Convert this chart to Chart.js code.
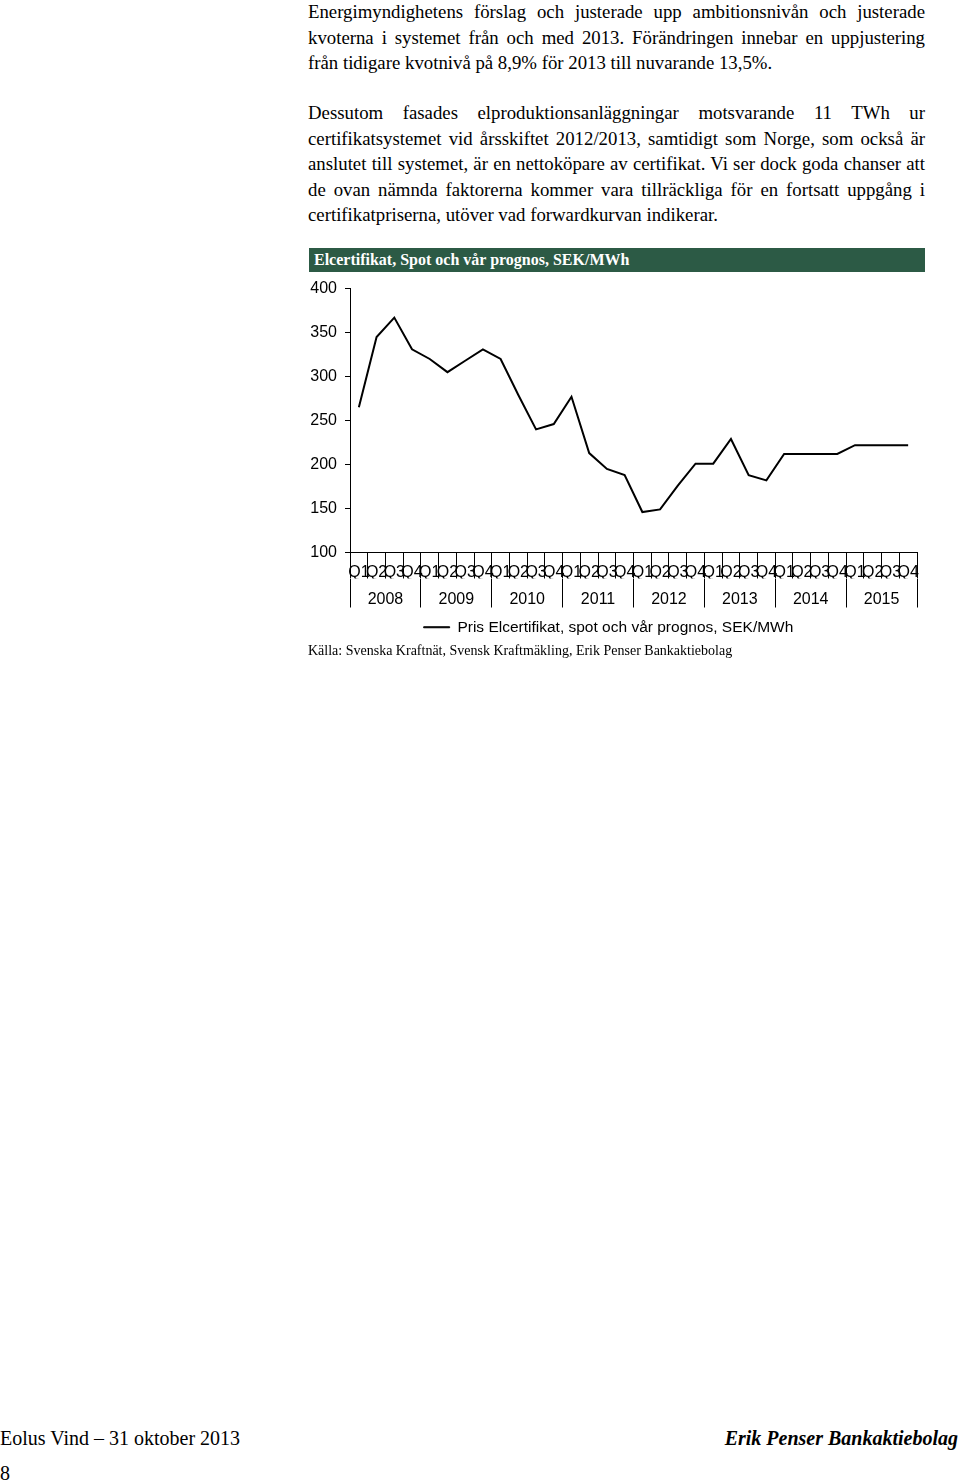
<!DOCTYPE html>
<html>
<head>
<meta charset="utf-8">
<script src="https://cdn.jsdelivr.net/npm/chart.js@4.4.0/dist/chart.umd.min.js"></script>
<style>
  html, body { margin:0; padding:0; background:#fff; }
  body { width:960px; height:1484px; position:relative; overflow:hidden; font-family:"Liberation Serif","Times New Roman",serif; color:#000; }
  .para { position:absolute; left:308px; width:617px; font-size:18.8px; line-height:25.6px; text-align:justify; }
  .titlebar { position:absolute; left:309px; top:248px; width:616px; height:24px; background:#2c5a45; color:#fff; font-weight:bold; font-size:16px; line-height:24px; padding-left:5px; box-sizing:border-box; }
  #wrap { position:absolute; left:300px; top:271px; width:630px; height:374px; }
  .src { position:absolute; left:308px; top:643px; font-size:14px; }
  .foot { position:absolute; font-size:20px; }
</style>
</head>
<body>
<div class="para" style="top:-1px;">Energimyndighetens förslag och justerade upp ambitionsnivån och justerade kvoterna i systemet från och med 2013. Förändringen innebar en uppjustering från tidigare kvotnivå på 8,9% för 2013 till nuvarande 13,5%.</div>
<div class="para" style="top:100px;">Dessutom fasades elproduktionsanläggningar motsvarande 11 TWh ur certifikatsystemet vid årsskiftet 2012/2013, samtidigt som Norge, som också är anslutet till systemet, är en nettoköpare av certifikat. Vi ser dock goda chanser att de ovan nämnda faktorerna kommer vara tillräckliga för en fortsatt uppgång i certifikatpriserna, utöver vad forwardkurvan indikerar.</div>
<div class="titlebar">Elcertifikat, Spot och vår prognos, SEK/MWh</div>
<div id="wrap"><canvas id="c"></canvas></div>
<div class="src">Källa: Svenska Kraftnät, Svensk Kraftmäkling, Erik Penser Bankaktiebolag</div>
<div class="foot" style="left:0; top:1427px;">Eolus Vind – 31 oktober 2013</div>
<div class="foot" style="right:2px; top:1427px; font-weight:bold; font-style:italic;">Erik Penser Bankaktiebolag</div>
<div class="foot" style="left:0; top:1462px;">8</div>
<script>
const quarters = ["Q1","Q2","Q3","Q4","Q1","Q2","Q3","Q4","Q1","Q2","Q3","Q4","Q1","Q2","Q3","Q4",
                  "Q1","Q2","Q3","Q4","Q1","Q2","Q3","Q4","Q1","Q2","Q3","Q4","Q1","Q2","Q3","Q4"];
const years = ["2008","2009","2010","2011","2012","2013","2014","2015"];
const seriesName = "Pris Elcertifikat, spot och vår prognos, SEK/MWh";
const prices = [265, 345, 367, 331,
                320, 305, 318, 331,
                320, 279, 240, 246,
                277, 213, 195, 188,
                146, 149, 176, 201,
                201, 229, 188, 182,
                212, 212, 212, 212,
                222, 222, 222, 222];
const yTicks = [100, 150, 200, 250, 300, 350, 400];

const axisFont = { family: "Liberation Sans, Arial, sans-serif", size: 16 };
const legendFont = { family: "Liberation Sans, Arial, sans-serif", size: 15.5 };

new Chart(document.getElementById('c'), {
  type: 'line',
  data: {
    labels: quarters,
    datasets: [{
      label: seriesName,
      data: prices,
      borderColor: '#000',
      backgroundColor: '#000',
      borderWidth: 2,
      pointRadius: 0,
      tension: 0,
      fill: false
    }]
  },
  options: {
    responsive: true,
    maintainAspectRatio: false,
    animation: false,
    layout: { padding: { top: 6, right: 13, left: 0, bottom: 0 } },
    plugins: {
      tooltip: { enabled: false },
      legend: {
        position: 'bottom',
        labels: {
          color: '#000',
          font: legendFont,
          boxWidth: 26,
          boxHeight: 1,
          padding: 12,
          generateLabels: (chart) => Chart.defaults.plugins.legend.labels.generateLabels(chart).map(i => ({...i, lineWidth: 1, strokeStyle: '#000', fillStyle: '#000'}))
        }
      }
    },
    scales: {
      x: {
        type: 'category',
        position: 'bottom',
        offset: true,
        grid: { offset: true, drawOnChartArea: false, drawTicks: true, tickLength: 26, color: '#000', lineWidth: 1 },
        border: { display: true, color: '#000', width: 1 },
        ticks: { color: '#000', font: axisFont, autoSkip: false, maxRotation: 0, minRotation: 0, padding: -15.6 },
        afterFit: (s) => { s.height = 26; }
      },
      x2: {
        type: 'category',
        position: 'bottom',
        labels: years,
        offset: true,
        grid: { offset: true, drawOnChartArea: false, drawTicks: true, tickLength: 29, color: '#000', lineWidth: 1 },
        border: { display: false },
        ticks: { color: '#000', font: axisFont, autoSkip: false, maxRotation: 0, minRotation: 0, padding: -17.6 },
        afterFit: (s) => { s.height = 29; }
      },
      y: {
        min: 100,
        max: 400,
        afterBuildTicks: (s) => { s.ticks = yTicks.map(v => ({ value: v })); },
        grid: { drawOnChartArea: false, drawTicks: true, tickLength: 5, color: '#000' },
        border: { display: true, color: '#000', width: 1 },
        ticks: { color: '#000', font: axisFont, padding: 8 },
        afterFit: (s) => { s.width = 50; }
      }
    }
  }
});
</script>
</body>
</html>
